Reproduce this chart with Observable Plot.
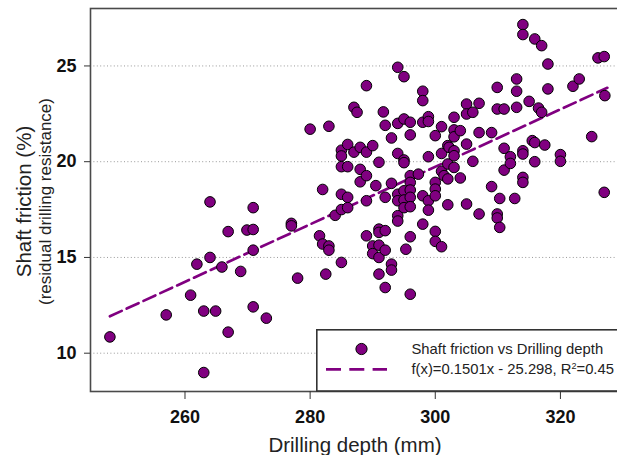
<!DOCTYPE html>
<html><head><meta charset="utf-8">
<script src="https://cdn.jsdelivr.net/npm/d3@7"></script>
<script src="https://cdn.jsdelivr.net/npm/@observablehq/plot@0.6"></script>
<style>
html,body{margin:0;padding:0;background:#fff;overflow:hidden;}
#wrap{position:relative;width:617px;height:455px;overflow:hidden;font-family:"Liberation Sans",Arial,sans-serif;}
#wrap svg.plot{max-width:none !important;}
#wrap svg.plot text{font-family:"Liberation Sans",Arial,sans-serif;}
#wrap svg.plot g[aria-label="x-axis tick label"],
#wrap svg.plot g[aria-label="y-axis tick label"]{font-size:18px;font-weight:bold;}
#legend{position:absolute;left:316px;top:329px;}
</style></head><body><div id="wrap"></div>
<script>
const depth = [248.0,257.0,260.9,261.9,263.0,263.0,264.0,264.0,264.9,265.9,266.9,266.9,268.9,269.9,270.9,270.9,270.9,270.9,273.0,277.0,277.0,278.0,280.0,282.0,281.5,282.0,282.5,283.0,283.0,283.0,284.0,285.0,285.0,285.0,285.0,285.0,285.0,286.0,286.0,286.0,286.0,287.0,287.5,287.0,288.0,288.0,288.0,289.0,289.0,289.0,289.0,289.0,290.0,290.0,290.0,290.5,291.0,291.0,291.0,291.0,291.0,291.0,291.7,292.0,292.0,292.0,292.0,292.0,293.0,293.0,293.0,293.0,294.0,294.0,294.0,294.0,294.0,294.0,294.0,295.0,295.0,295.0,295.0,295.0,295.0,295.0,295.3,296.0,296.0,296.0,296.0,296.0,296.0,296.0,296.0,296.0,297.3,298.0,298.0,298.0,298.0,298.0,298.9,298.9,298.9,298.9,298.9,300.0,300.0,300.0,300.0,300.0,300.0,301.0,301.0,301.0,301.0,301.4,302.0,302.0,302.0,302.0,302.2,303.0,303.0,303.0,303.0,303.0,303.0,304.0,304.0,305.0,305.0,305.0,305.0,306.0,306.0,307.0,307.0,307.0,309.0,309.0,309.9,309.9,309.9,309.9,310.3,310.3,311.0,311.0,311.0,312.0,312.0,312.7,313.0,313.0,313.0,314.0,314.0,314.0,314.0,314.0,314.0,315.0,315.5,315.9,315.9,315.9,316.5,317.0,317.0,317.5,318.0,318.0,320.0,320.0,322.0,323.0,325.0,326.0,327.0,327.1,327.0];
const friction = [10.85,12.0,13.03,14.65,12.2,8.99,17.9,15.0,12.2,14.5,16.35,11.1,14.27,16.43,17.6,16.46,15.38,12.42,11.83,16.78,16.65,13.92,21.7,18.55,16.13,15.7,14.13,15.6,15.38,21.85,17.2,20.6,20.3,19.74,18.3,17.5,14.74,20.9,19.74,18.14,17.6,22.84,22.58,20.5,20.75,19.6,18.95,23.97,20.5,19.27,17.96,16.13,20.84,15.6,15.2,18.75,19.97,16.48,16.31,15.64,15.0,14.13,22.6,21.9,18.14,16.4,15.38,13.43,21.24,18.87,14.65,14.34,24.93,22.0,20.43,18.3,17.96,17.18,16.9,24.44,22.23,20.09,19.95,18.48,18.0,17.6,15.43,22.06,21.4,19.27,18.92,18.52,18.14,17.65,16.08,13.08,19.35,23.68,23.19,22.06,18.22,16.74,22.35,22.1,20.26,17.96,17.47,21.36,18.92,18.57,18.22,16.36,15.84,21.83,20.43,19.5,15.56,19.27,20.84,19.88,19.1,17.75,20.75,22.32,21.66,21.3,20.57,20.31,19.7,21.62,19.15,23.01,22.49,20.92,17.79,22.58,20.02,23.05,21.52,17.27,21.52,18.7,23.88,22.75,17.27,17.06,16.57,18.08,22.75,20.7,19.56,20.26,19.91,18.08,24.32,23.68,22.84,27.16,26.64,20.57,20.4,19.18,18.92,23.15,21.1,26.41,21.0,20.0,22.8,22.58,26.06,20.87,25.1,23.8,20.37,20.02,23.94,24.32,21.31,25.42,25.49,23.45,18.4];
const xTicks = [260, 280, 300, 320];
const yTicks = [10, 15, 20, 25];
const fitCoef = [0.1501, -25.298]; // slope, intercept
const fitRange = [248, 327.5];

const points = depth.map((d, i) => ({depth: d, friction: friction[i]}));
const fit = fitRange.map(d => ({depth: d, friction: fitCoef[0] * d + fitCoef[1]}));

const purple = "#800080";
const font = "Liberation Sans, Arial, sans-serif";

const chart = Plot.plot({
  width: 630,
  height: 455,
  marginLeft: 90,
  marginRight: 5,
  marginTop: 8,
  marginBottom: 64,
  style: {fontFamily: font, background: "#fff", overflow: "visible", maxWidth: "none"},
  x: {domain: [244.9, 330.4]},
  y: {domain: [8, 28]},
  marks: [
    Plot.ruleY(yTicks, {stroke: "#999", strokeWidth: 1, strokeDasharray: "1,2.4"}),
    Plot.line(fit, {x: "depth", y: "friction", stroke: purple, strokeWidth: 2.7, strokeDasharray: "13,5.5"}),
    Plot.dot(points, {x: "depth", y: "friction", r: 5.3, fill: purple, stroke: "#000", strokeWidth: 1, fillOpacity: 1}),
    Plot.frame({stroke: "#4a4a4a", strokeWidth: 1.6}),
    Plot.axisX({ticks: xTicks, tickSize: 8, tickPadding: 11, fontSize: 18, fontWeight: "bold", fill: "#111", stroke: "#333", label: null}),
    Plot.axisY({ticks: yTicks, tickSize: 6, tickPadding: 8, fontSize: 18, fontWeight: "bold", fill: "#111", stroke: "#333", label: null}),
    Plot.text(["Drilling depth (mm)"], {frameAnchor: "bottom", dy: 54, dx: -3, fontSize: 20.5, fill: "#222", lineAnchor: "middle", textAnchor: "middle"}),
    Plot.text(["Shaft friction (%)"], {frameAnchor: "left", dx: -66, dy: 1.5, rotate: -90, fontSize: 20.5, fill: "#222", lineAnchor: "middle", textAnchor: "middle"}),
    Plot.text(["(residual drilling resistance)"], {frameAnchor: "left", dx: -45, dy: 1.5, rotate: -90, fontSize: 17, fill: "#222", lineAnchor: "middle", textAnchor: "middle"})
  ]
});
chart.classList.add("plot");
const wrap = document.getElementById("wrap");
wrap.appendChild(chart);

// legend
const ns = "http://www.w3.org/2000/svg";
const leg = document.createElementNS(ns, "svg");
leg.setAttribute("id", "legend");
leg.setAttribute("width", "320");
leg.setAttribute("height", "63");
leg.innerHTML = `
  <rect x="0.8" y="0.8" width="400" height="61.2" fill="#fff" stroke="#333" stroke-width="1.6"/>
  <circle cx="45.5" cy="20" r="5.6" fill="${purple}" stroke="#000" stroke-width="1"/>
  <line x1="10" x2="71" y1="40.3" y2="40.3" stroke="${purple}" stroke-width="2.7" stroke-dasharray="15,8.3"/>
  <text x="95.5" y="25" font-family="${font}" font-size="14.8" fill="#222">Shaft friction vs Drilling depth</text>
  <text x="95.5" y="45.3" font-family="${font}" font-size="14.8" fill="#222">f(x)=0.1501x - 25.298, R<tspan dy="-5.5" font-size="9">2</tspan><tspan dy="5.5">=0.45</tspan></text>
`;
wrap.appendChild(leg);
</script>
</body></html>
